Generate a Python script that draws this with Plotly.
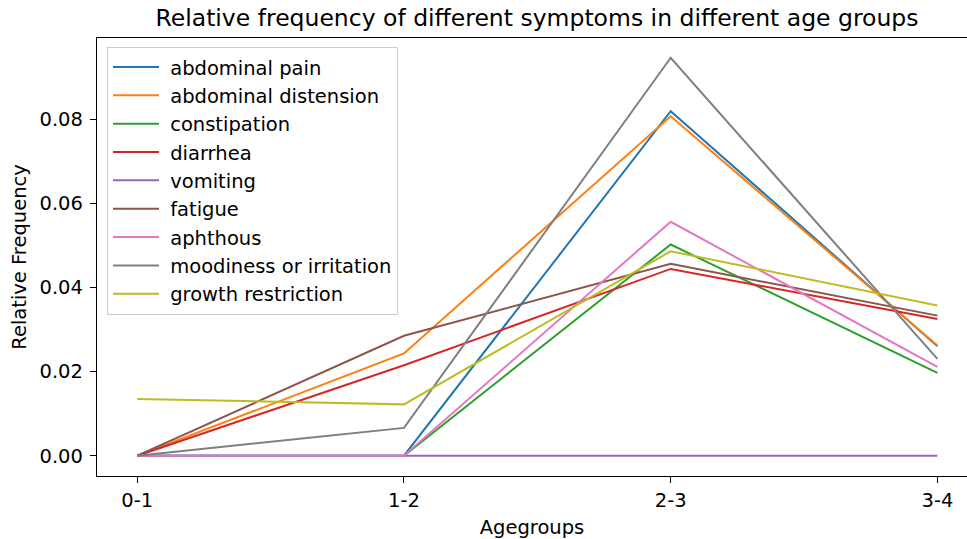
import plotly.graph_objects as go

agegroups = ["0-1", "1-2", "2-3", "3-4"]
abdominal_pain = [0.0, 0.0, 0.0819, 0.0260]
abdominal_distension = [0.0, 0.0243, 0.0807, 0.0262]
constipation = [0.0, 0.0, 0.0502, 0.0197]
diarrhea = [0.0, 0.0215, 0.0444, 0.0325]
vomiting = [0.0, 0.0, 0.0, 0.0]
fatigue = [0.0, 0.0285, 0.0456, 0.0333]
aphthous = [0.0, 0.0, 0.0556, 0.0211]
moodiness = [0.0, 0.0066, 0.0946, 0.0230]
growth_restriction = [0.0135, 0.0122, 0.0486, 0.0357]

series = [
    ("abdominal pain", abdominal_pain, "#1f77b4"),
    ("abdominal distension", abdominal_distension, "#ff7f0e"),
    ("constipation", constipation, "#2ca02c"),
    ("diarrhea", diarrhea, "#d62728"),
    ("vomiting", vomiting, "#9467bd"),
    ("fatigue", fatigue, "#8c564b"),
    ("aphthous", aphthous, "#e377c2"),
    ("moodiness or irritation", moodiness, "#7f7f7f"),
    ("growth restriction", growth_restriction, "#bcbd22"),
]

FONT = "DejaVu Sans"
FS = 19.5

fig = go.Figure()
for i, (name, vals, color) in enumerate(series):
    fig.add_trace(go.Scatter(
        x=agegroups, y=vals, mode="lines", name="\u00a0" + name,
        line=dict(color=color, width=2), legendgroup=f"g{i}",
    ))

fig.update_layout(
    width=967, height=539,
    margin=dict(l=97, r=0, t=38, b=63),
    paper_bgcolor="white", plot_bgcolor="white",
    font=dict(family=FONT, size=FS, color="black"),
    title=dict(
        text="Relative frequency of different symptoms in different age groups",
        font=dict(family=FONT, size=23.5, color="black"),
        xref="container", x=537 / 967, xanchor="center",
        yref="container", y=1 - 18 / 539, yanchor="middle",
    ),
    legend=dict(
        x=0.0115, y=0.98, xanchor="left", yanchor="top",
        bordercolor="#cccccc", borderwidth=1,
        bgcolor="rgba(255,255,255,0.8)",
        font=dict(family=FONT, size=FS, color="black"),
        tracegroupgap=8, itemwidth=46,
        traceorder="normal",
    ),
    showlegend=True,
)

fig.update_xaxes(
    type="category", range=[-0.151, 3.111],
    showline=True, linecolor="black", linewidth=1.3, mirror=True,
    ticks="outside", ticklen=6, tickwidth=1.3, tickcolor="black",
    showgrid=False, zeroline=False,
    title=dict(text="Agegroups", font=dict(family=FONT, size=FS), standoff=10),
    tickfont=dict(family=FONT, size=FS),
)
fig.update_yaxes(
    range=[-0.00483, 0.0993],
    tickvals=[0.0, 0.02, 0.04, 0.06, 0.08], tickformat=".2f",
    showline=True, linecolor="black", linewidth=1.3, mirror=False,
    ticks="outside", ticklen=6, tickwidth=1.3, tickcolor="black",
    ticklabelstandoff=3,
    showgrid=False, zeroline=False,
    title=dict(text="Relative Frequency", font=dict(family=FONT, size=FS), standoff=7),
    tickfont=dict(family=FONT, size=FS),
)

fig.write_html("out.html")
